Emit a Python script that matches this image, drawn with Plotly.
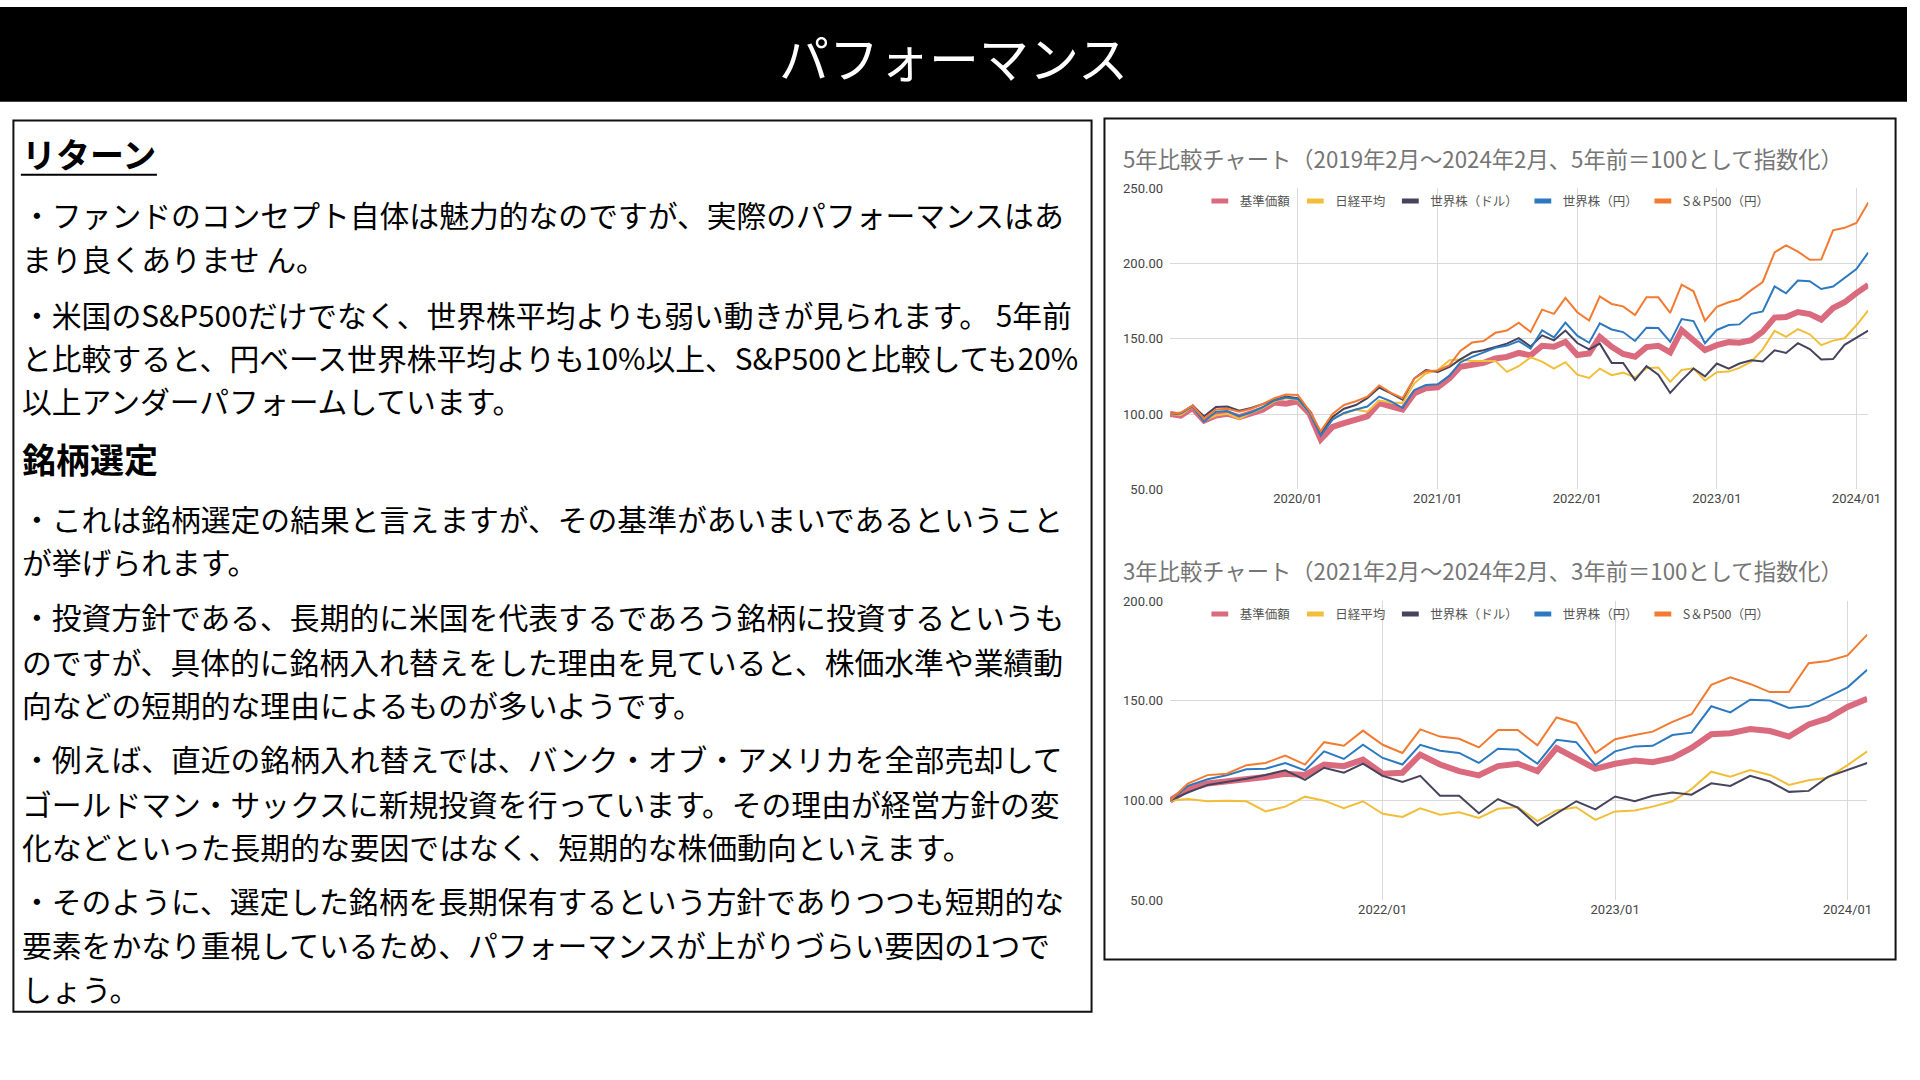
import plotly.graph_objects as go
import pandas as pd

W, H = 1920, 1080
FONT = "Noto Sans CJK JP"
CHART_FONT = "Roboto, Noto Sans CJK JP"

# ---------------- data ----------------
series_names = ["基準価額", "日経平均", "世界株（ドル）", "世界株（円）", "S＆P500（円）"]
series_colors = ["#da6a7d", "#f2be3a", "#45445c", "#2d79c0", "#f27b31"]
series_widths = [6, 2, 2, 2, 2]

months_5y = pd.date_range("2019-02-01", "2024-02-01", freq="MS")
months_3y = pd.date_range("2021-02-01", "2024-02-01", freq="MS")

fund_5y = [100.0, 99.0, 104.0, 95.6, 99.0, 100.2, 98.0, 100.2, 102.9, 107.7,
           106.8, 108.4, 100.2, 83.1, 91.4, 94.0, 95.8, 98.5, 107.3, 105.5,
           102.9, 113.8, 117.1, 117.8, 123.7, 131.4, 133.0, 134.0, 136.9, 138.0,
           140.6, 139.0, 145.4, 144.7, 148.0, 139.2, 140.3, 151.3, 144.7, 139.9,
           138.1, 144.5, 145.4, 141.0, 155.7, 149.1, 142.5, 145.8, 147.8, 147.4,
           149.1, 154.8, 164.1, 164.5, 167.8, 166.5, 162.8, 170.5, 174.3, 180.4, 185.9]
nikkei_5y = [100.0, 99.3, 105.0, 95.6, 99.0, 100.2, 96.7, 100.7, 104.0, 108.4,
             110.5, 109.5, 100.7, 87.5, 97.4, 100.2, 102.9, 101.5, 109.0, 107.7,
             107.3, 120.4, 127.0, 129.2, 135.8, 136.3, 135.3, 135.2, 135.2, 128.0,
             131.8, 137.7, 134.9, 130.2, 134.5, 126.2, 124.0, 130.2, 125.8, 127.5,
             124.3, 130.4, 130.9, 121.4, 129.3, 130.4, 122.3, 127.8, 128.2, 130.7,
             134.8, 143.0, 155.3, 151.3, 156.4, 153.0, 145.8, 148.8, 150.4, 159.0, 168.9]
world_usd_5y = [100.0, 100.5, 105.5, 98.5, 104.6, 105.0, 102.2, 104.0, 106.6, 109.5,
                111.6, 110.5, 101.8, 87.5, 98.0, 103.5, 106.0, 110.5, 117.6, 113.8,
                109.5, 123.7, 129.2, 128.0, 131.4, 136.3, 140.9, 142.4, 144.6, 146.8,
                150.5, 144.9, 152.3, 149.0, 155.5, 147.2, 143.0, 146.8, 134.0, 134.0,
                122.6, 131.8, 126.1, 114.0, 122.4, 130.3, 125.0, 133.6, 130.1, 133.6,
                135.8, 134.9, 142.4, 140.6, 147.1, 143.2, 136.3, 136.5, 146.0, 150.7, 155.4]
world_jpy_5y = [100.0, 100.5, 105.0, 95.0, 101.5, 102.0, 98.5, 101.0, 104.5, 109.0,
                111.0, 110.0, 100.7, 85.7, 96.3, 100.7, 103.0, 105.0, 111.6, 108.4,
                104.0, 116.0, 119.3, 119.8, 125.5, 134.3, 138.0, 140.9, 144.0, 145.5,
                148.5, 143.5, 155.7, 150.9, 160.8, 152.1, 147.4, 160.3, 156.2, 154.5,
                148.6, 157.4, 157.2, 148.0, 163.1, 161.8, 147.1, 155.9, 159.2, 159.6,
                166.6, 168.2, 184.8, 180.3, 188.7, 188.3, 183.1, 184.8, 190.6, 196.4, 207.4]
sp500_5y = [100.0, 101.0, 105.5, 97.0, 103.0, 103.5, 101.5, 103.5, 106.5, 110.5,
            113.0, 112.7, 102.0, 88.5, 100.0, 106.0, 108.5, 111.5, 119.0, 114.0,
            110.5, 123.7, 128.5, 129.0, 132.5, 142.0, 147.5, 148.5, 154.0, 155.5,
            160.7, 154.5, 169.4, 166.6, 177.2, 167.7, 162.2, 178.2, 173.2, 171.6,
            165.8, 177.6, 177.6, 167.3, 186.0, 181.6, 162.0, 171.3, 174.3, 176.3,
            182.4, 187.8, 207.5, 212.2, 208.0, 202.6, 202.7, 222.2, 223.8, 227.1, 240.6]

fund_3y = [100.0, 105.8, 108.6, 109.6, 111.0, 111.9, 113.5, 112.9, 118.1, 117.3,
           120.6, 113.5, 114.0, 123.1, 118.1, 114.8, 112.7, 117.3, 118.5, 114.8,
           126.4, 121.4, 116.0, 118.5, 120.1, 119.3, 121.4, 126.4, 133.3, 133.8,
           135.9, 134.9, 132.1, 138.2, 141.2, 147.0, 151.1]
nikkei_3y = [100.0, 100.8, 99.7, 100.0, 99.7, 94.6, 97.0, 102.0, 100.0, 96.2,
             99.7, 93.4, 91.8, 96.2, 92.9, 94.2, 91.3, 95.9, 96.8, 89.8,
             95.1, 96.7, 90.4, 94.6, 95.1, 97.0, 99.7, 105.8, 114.5, 112.0,
             115.3, 112.9, 107.9, 110.2, 111.5, 117.8, 124.7]
world_usd_3y = [100.0, 104.1, 107.9, 109.4, 111.0, 112.9, 115.2, 110.4, 116.5, 114.0,
                118.6, 112.4, 109.4, 112.4, 102.5, 102.5, 93.7, 100.8, 96.5, 87.6,
                93.7, 99.7, 95.6, 102.1, 99.7, 102.5, 104.1, 103.0, 108.7, 107.4,
                112.4, 109.6, 104.4, 104.9, 111.9, 115.3, 118.9]
world_jpy_3y = [100.0, 107.4, 110.7, 112.7, 115.7, 116.0, 118.9, 115.2, 124.7, 120.9,
                128.0, 121.4, 118.1, 128.0, 125.0, 123.9, 118.9, 126.0, 125.5, 118.5,
                130.5, 129.3, 117.8, 124.7, 127.2, 127.5, 132.9, 134.1, 147.3, 144.2,
                150.6, 150.2, 146.5, 147.4, 151.9, 156.8, 165.6]
sp500_3y = [100.0, 108.6, 112.8, 113.5, 117.8, 118.9, 122.6, 118.1, 129.3, 127.5,
            135.1, 128.0, 123.9, 135.7, 132.1, 131.0, 126.7, 135.4, 135.4, 127.7,
            141.7, 138.7, 123.9, 130.8, 132.9, 134.6, 139.5, 143.3, 158.0, 161.8,
            158.5, 154.4, 154.4, 168.9, 170.0, 172.8, 183.2]

xtick_vals_5y = ["2020-01-01", "2021-01-01", "2022-01-01", "2023-01-01", "2024-01-01"]
xtick_text_5y = ["2020/01", "2021/01", "2022/01", "2023/01", "2024/01"]
xtick_vals_3y = ["2022-01-01", "2023-01-01", "2024-01-01"]
xtick_text_3y = ["2022/01", "2023/01", "2024/01"]
ytick_vals_5y = [50, 100, 150, 200, 250]
ytick_vals_3y = [50, 100, 150, 200]

chart_title_5y = "5年比較チャート（2019年2月～2024年2月、5年前＝100として指数化）"
chart_title_3y = "3年比較チャート（2021年2月～2024年2月、3年前＝100として指数化）"
page_title = "パフォーマンス"

text_items = [
    ("h", "リターン", 149),
    ("t", "・ファンドのコンセプト自体は魅力的なのですが、実際のパフォーマンスはあ", 210),
    ("t", "まり良くありませ ん。", 255),
    ("t", "・米国のS&P500だけでなく、世界株平均よりも弱い動きが見られます。 5年前", 311),
    ("t", "と比較すると、円ベース世界株平均よりも10%以上、S&P500と比較しても20%", 355),
    ("t", "以上アンダーパフォームしています。", 399),
    ("h", "銘柄選定", 458),
    ("t", "・これは銘柄選定の結果と言えますが、その基準があいまいであるということ", 518),
    ("t", "が挙げられます。", 562),
    ("t", "・投資方針である、長期的に米国を代表するであろう銘柄に投資するというも", 618),
    ("t", "のですが、具体的に銘柄入れ替えをした理由を見ていると、株価水準や業績動", 663),
    ("t", "向などの短期的な理由によるものが多いようです。", 707),
    ("t", "・例えば、直近の銘柄入れ替えでは、バンク・オブ・アメリカを全部売却して", 762),
    ("t", "ゴールドマン・サックスに新規投資を行っています。その理由が経営方針の変", 807),
    ("t", "化などといった長期的な要因ではなく、短期的な株価動向といえます。", 851),
    ("t", "・そのように、選定した銘柄を長期保有するという方針でありつつも短期的な", 906),
    ("t", "要素をかなり重視しているため、パフォーマンスが上がりづらい要因の1つで", 950),
    ("t", "しょう。", 995),
]

# ---------------- helpers ----------------
def px(x):
    return x / W


def py(y):
    return 1 - y / H


fig = go.Figure()

sets = [
    (months_5y, [fund_5y, nikkei_5y, world_usd_5y, world_jpy_5y, sp500_5y], "x", "y", "legend"),
    (months_3y, [fund_3y, nikkei_3y, world_usd_3y, world_jpy_3y, sp500_3y], "x2", "y2", "legend2"),
]
for months, vals, xa, ya, lg in sets:
    for name, col, wid, v in zip(series_names, series_colors, series_widths, vals):
        fig.add_trace(go.Scatter(x=months, y=v, mode="lines", name=name,
                                 line=dict(color=col, width=wid),
                                 xaxis=xa, yaxis=ya, showlegend=False, hoverinfo="skip"))
    for name, col in zip(series_names, series_colors):
        fig.add_trace(go.Scatter(x=[None], y=[None], mode="markers", name=name,
                                 marker=dict(symbol="line-ew", size=12, color=col,
                                             line=dict(width=5, color=col)),
                                 xaxis=xa, yaxis=ya, legend=lg, showlegend=True,
                                 hoverinfo="skip"))

grid = "#d9d9d9"
tickfont = dict(family=CHART_FONT, size=13, color="#444444")
common_x = dict(type="date", showgrid=True, gridcolor=grid, gridwidth=1, zeroline=False,
                showline=False, ticks="", tickfont=tickfont, fixedrange=True)
common_y = dict(showgrid=True, gridcolor=grid, gridwidth=1, zeroline=False, showline=False,
                ticks="", tickformat=".2f", tickfont=tickfont, ticklabelstandoff=6,
                fixedrange=True)

legend_font = dict(family=FONT, size=12.5, color="#555555")

fig.update_layout(
    width=W, height=H, autosize=False,
    margin=dict(l=0, r=0, t=0, b=0, pad=0),
    paper_bgcolor="white", plot_bgcolor="white",
    hovermode=False,
    xaxis=dict(common_x, domain=[px(1178), px(1881)], anchor="y",
               range=[months_5y[0], months_5y[-1]],
               tickvals=xtick_vals_5y, ticktext=xtick_text_5y),
    yaxis=dict(common_y, domain=[py(489), py(184)], anchor="x", range=[50, 250],
               tickvals=ytick_vals_5y),
    xaxis2=dict(common_x, domain=[px(1178), px(1880)], anchor="y2",
                range=[months_3y[0], months_3y[-1]],
                tickvals=xtick_vals_3y, ticktext=xtick_text_3y),
    yaxis2=dict(common_y, domain=[py(906), py(602.5)], anchor="x2", range=[50, 200],
                tickvals=ytick_vals_3y),
    legend=dict(orientation="h", x=px(1208), xanchor="left", y=py(197), yanchor="middle",
                font=legend_font, bgcolor="rgba(0,0,0,0)", itemwidth=30, traceorder="normal"),
    legend2=dict(orientation="h", x=px(1208), xanchor="left", y=py(616), yanchor="middle",
                 font=legend_font, bgcolor="rgba(0,0,0,0)", itemwidth=30, traceorder="normal"),
)

shapes = [
    dict(type="rect", xref="paper", yref="paper", x0=0, x1=1, y0=py(96), y1=1,
         fillcolor="black", line=dict(width=0), layer="below"),
    dict(type="rect", xref="paper", yref="paper", x0=px(13.5), x1=px(1099), y0=py(1019), y1=py(115),
         fillcolor="rgba(0,0,0,0)", line=dict(color="#111111", width=2)),
    dict(type="rect", xref="paper", yref="paper", x0=px(1112), x1=px(1908.5), y0=py(966), y1=py(113),
         fillcolor="rgba(0,0,0,0)", line=dict(color="#111111", width=2)),
    dict(type="line", xref="paper", yref="paper", x0=px(21), x1=px(158), y0=py(170), y1=py(170),
         line=dict(color="black", width=2)),
]
fig.update_layout(shapes=shapes)

ann = [
    dict(text=page_title, x=0.5, y=py(50), xref="paper", yref="paper", xanchor="center",
         yanchor="middle", showarrow=False, font=dict(family=FONT, size=50, color="white")),
    dict(text=chart_title_5y, x=px(1129), y=py(153), xref="paper", yref="paper", xanchor="left",
         yanchor="middle", showarrow=False, font=dict(family=FONT, size=22.3, color="#757575")),
    dict(text=chart_title_3y, x=px(1129), y=py(571), xref="paper", yref="paper", xanchor="left",
         yanchor="middle", showarrow=False, font=dict(family=FONT, size=22.3, color="#757575")),
]
for kind, txt, yc in text_items:
    if kind == "h":
        ann.append(dict(text="<b>" + txt + "</b>", x=px(20), y=py(yc), xref="paper", yref="paper",
                        xanchor="left", yanchor="middle", showarrow=False,
                        font=dict(family=FONT, size=34, color="black")))
    else:
        ann.append(dict(text=txt, x=px(20), y=py(yc), xref="paper", yref="paper",
                        xanchor="left", yanchor="middle", showarrow=False,
                        font=dict(family=FONT, size=29.8, color="black")))
fig.update_layout(annotations=ann)

# pin the 1920x1080 figure to the top-left corner of the window
pin_script = (
    "var gd = document.getElementById('{plot_id}');"
    "gd.style.position = 'fixed'; gd.style.left = '0px'; gd.style.top = '0px'; gd.style.margin = '0px';"
    "document.documentElement.style.margin = '0px'; document.documentElement.style.overflow = 'hidden';"
    "document.body.style.margin = '0px'; document.body.style.overflow = 'hidden';"
)

fig.write_html("out.html", config={"displayModeBar": False}, post_script=pin_script)
